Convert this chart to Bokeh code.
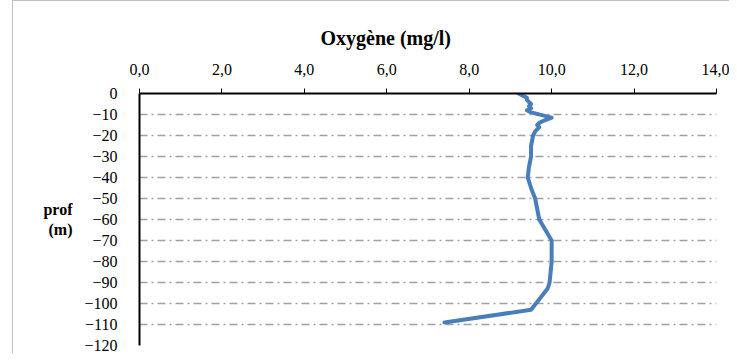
from bokeh.plotting import figure
from bokeh.models import FixedTicker, Range1d, CustomJSTickFormatter, InlineStyleSheet
from bokeh.embed import file_html
from bokeh.resources import INLINE

# data
depth = [0, -1, -2, -3, -5, -6, -7, -8, -9, -11.5, -13, -14, -15, -16, -18, -20,
         -25, -30, -35, -40, -45, -50, -55, -60, -65, -70, -80, -90, -93, -103, -109]
oxygen = [9.2, 9.3, 9.4, 9.4, 9.5, 9.45, 9.5, 9.4, 9.5, 10.0, 9.8, 9.7, 9.65, 9.7, 9.6, 9.55,
          9.5, 9.5, 9.45, 9.42, 9.5, 9.6, 9.65, 9.7, 9.85, 10.0, 10.0, 9.95, 9.9, 9.5, 7.4]
x_ticks = [0, 2, 4, 6, 8, 10, 12, 14]
y_ticks = list(range(-120, 1, 10))
title_text = "Oxygène (mg/l)"
ylabel_text = "prof\n(m)"

W, H = 729, 353
p = figure(width=W, height=H, output_backend="svg", toolbar_location=None,
           x_range=Range1d(0, 14), y_range=Range1d(-120, 0),
           x_axis_location="above",
           min_border_left=139, min_border_right=13, min_border_top=93, min_border_bottom=8)
p.outline_line_color = None
p.background_fill_color = "white"
p.border_fill_color = None
p.stylesheets = [InlineStyleSheet(css=(
    ":host { background:"
    " linear-gradient(#bfbfbf,#bfbfbf) 12px 0px / 1px 100% no-repeat,"
    " linear-gradient(#bfbfbf,#bfbfbf) 12px 0px / 100% 1px no-repeat,"
    " white; }"))]

serif = "'Liberation Serif', 'Times New Roman', serif"

p.title.text = title_text
p.title.text_font = serif
p.title.text_font_size = "20px"
p.title.text_font_style = "bold"
p.title.text_color = "black"
p.title.align = "left"
p.title.offset = 181
p.title.standoff = 23

xa = p.xaxis[0]
xa.ticker = FixedTicker(ticks=x_ticks)
xa.formatter = CustomJSTickFormatter(code="return tick.toFixed(1).replace('.', ',');")
xa.major_label_text_font = serif
xa.major_label_text_font_size = "16px"
xa.major_label_text_color = "black"
xa.axis_line_color = "black"
xa.axis_line_width = 2
xa.major_tick_line_color = "black"
xa.major_tick_out = 5
xa.major_tick_in = 0
xa.minor_tick_line_color = None
xa.major_label_standoff = 14

ya = p.yaxis[0]
ya.ticker = FixedTicker(ticks=y_ticks)
ya.major_label_text_font = serif
ya.major_label_text_font_size = "16px"
ya.major_label_text_color = "black"
ya.axis_line_color = "black"
ya.axis_line_width = 2
ya.major_tick_line_color = None
ya.minor_tick_line_color = None
ya.major_label_standoff = 16
ya.axis_label = ylabel_text
ya.axis_label_orientation = "horizontal"
ya.axis_label_text_font = serif
ya.axis_label_text_font_size = "16px"
ya.axis_label_text_font_style = "bold"
ya.axis_label_text_color = "black"
ya.axis_label_standoff = 9

p.xgrid.grid_line_color = None
p.ygrid.ticker = FixedTicker(ticks=y_ticks)
p.ygrid.grid_line_color = "#a0a0a0"
p.ygrid.grid_line_width = 1.5
p.ygrid.grid_line_dash = "8 4 2 4"

p.line(oxygen, depth, line_color="#4a7ebb", line_width=4, line_join="round", line_cap="round")

open("out.html", "w").write(file_html(p, INLINE))
